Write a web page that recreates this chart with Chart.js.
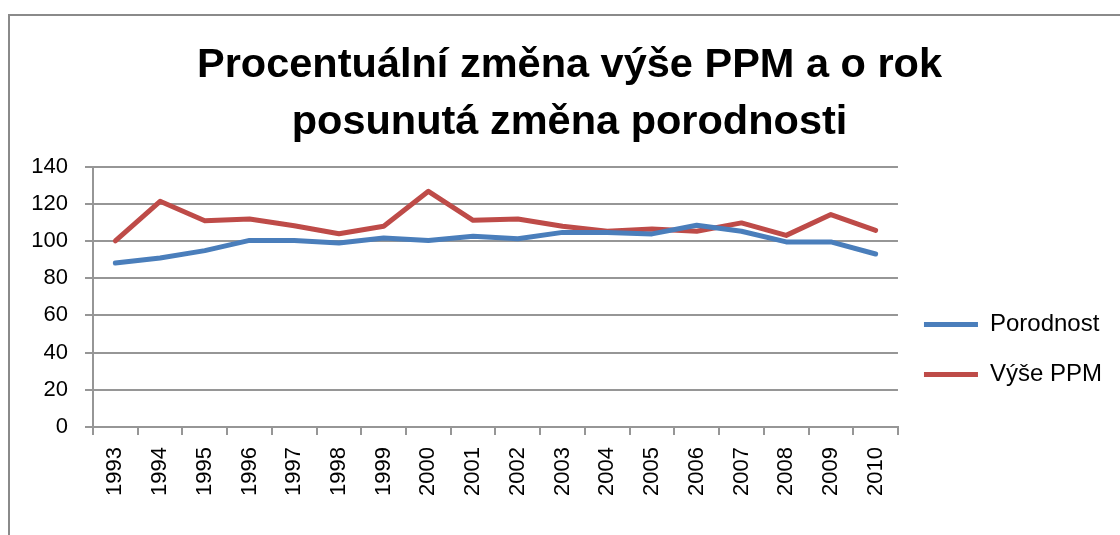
<!DOCTYPE html>
<html>
<head>
<meta charset="utf-8">
<script src="https://cdn.jsdelivr.net/npm/chart.js@4/dist/chart.umd.min.js"></script>
<style>
  html, body { margin: 0; padding: 0; background: #fff; }
  canvas { display: block; }
</style>
</head>
<body>
<canvas id="graf" width="1120" height="535"></canvas>
<script>
// roky a hodnoty
const roky = ['1993', '1994', '1995', '1996', '1997', '1998', '1999', '2000', '2001',
  '2002', '2003', '2004', '2005', '2006', '2007', '2008', '2009', '2010'];
const porodnost = [88.1, 90.8, 94.8, 100.3, 100.2, 98.9, 101.6, 100.2, 102.5,
  101.2, 104.6, 104.6, 103.8, 108.4, 105.2, 99.5, 99.5, 93.0];
const vysePPM = [100.0, 121.3, 110.9, 111.8, 108.2, 103.9, 107.9, 126.7, 111.1,
  111.8, 107.9, 105.2, 106.4, 105.2, 109.7, 103.0, 114.2, 105.7];
const nazvy = ['Porodnost', 'Výše PPM'];
const osaY = [0, 20, 40, 60, 80, 100, 120, 140];

const pismo = "'Liberation Sans', Arial, sans-serif";
const seda = '#969696';

// rámeček vlevo a nahoře
const ramecek = {
  id: 'ramecek',
  beforeDraw(chart) {
    const ctx = chart.ctx;
    ctx.save();
    ctx.fillStyle = '#fff';
    ctx.fillRect(0, 0, chart.width, chart.height);
    ctx.strokeStyle = '#8a8a8a';
    ctx.lineWidth = 2;
    ctx.beginPath();
    ctx.moveTo(9, chart.height);
    ctx.lineTo(9, 15);
    ctx.lineTo(chart.width, 15);
    ctx.stroke();
    ctx.restore();
  }
};

const ctx = document.getElementById('graf').getContext('2d');
const graf = new Chart(ctx, {
  type: 'line',
  data: {
    labels: roky,
    datasets: [{
      label: nazvy[0],
      data: porodnost,
      borderColor: '#4a7ebb',
      backgroundColor: '#4a7ebb',
      borderWidth: 5,
      borderCapStyle: 'round',
      borderJoinStyle: 'round',
      pointRadius: 0,
      tension: 0
    }, {
      label: nazvy[1],
      data: vysePPM,
      borderColor: '#be4b48',
      backgroundColor: '#be4b48',
      borderWidth: 5,
      borderCapStyle: 'round',
      borderJoinStyle: 'round',
      pointRadius: 0,
      tension: 0
    }]
  },
  options: {
    responsive: false,
    animation: false,
    devicePixelRatio: 1,
    layout: { padding: { left: 27, right: 8, top: 0, bottom: 0 } },
    plugins: {
      title: {
        display: true,
        text: ['Procentuální změna výše PPM a o rok', 'posunutá změna porodnosti'],
        color: '#000',
        font: { family: pismo, size: 41.5, weight: 'bold', lineHeight: 1.38 },
        padding: { top: 37, bottom: 15 }
      },
      legend: {
        position: 'right',
        fullSize: false,
        align: 'start',
        title: {
          display: true,
          text: ' ',
          padding: { top: 93.6, bottom: 0 },
          font: { family: pismo, size: 22 }
        },
        labels: {
          usePointStyle: true,
          pointStyle: 'line',
          pointStyleWidth: 54,
          padding: 26,
          color: '#000',
          font: { family: pismo, size: 24 }
        }
      },
      tooltip: { enabled: false }
    },
    scales: {
      x: {
        offset: true,
        grid: {
          offset: true,
          drawOnChartArea: false,
          tickLength: 8,
          color: seda,
          lineWidth: 2
        },
        border: { color: seda, width: 2 },
        ticks: {
          color: '#000',
          font: { family: pismo, size: 22 },
          minRotation: 90,
          maxRotation: 90,
          padding: 12
        },
        afterFit(scale) { scale.height = 108; }
      },
      y: {
        min: 0,
        max: 140,
        afterBuildTicks(scale) { scale.ticks = osaY.map(v => ({ value: v })); },
        grid: { color: seda, lineWidth: 2, tickLength: 8 },
        border: { color: seda, width: 2 },
        ticks: {
          color: '#000',
          font: { family: pismo, size: 22 },
          padding: 17
        },
        afterFit(scale) { scale.width = 66; }
      }
    }
  },
  plugins: [ramecek]
});
</script>
</body>
</html>
